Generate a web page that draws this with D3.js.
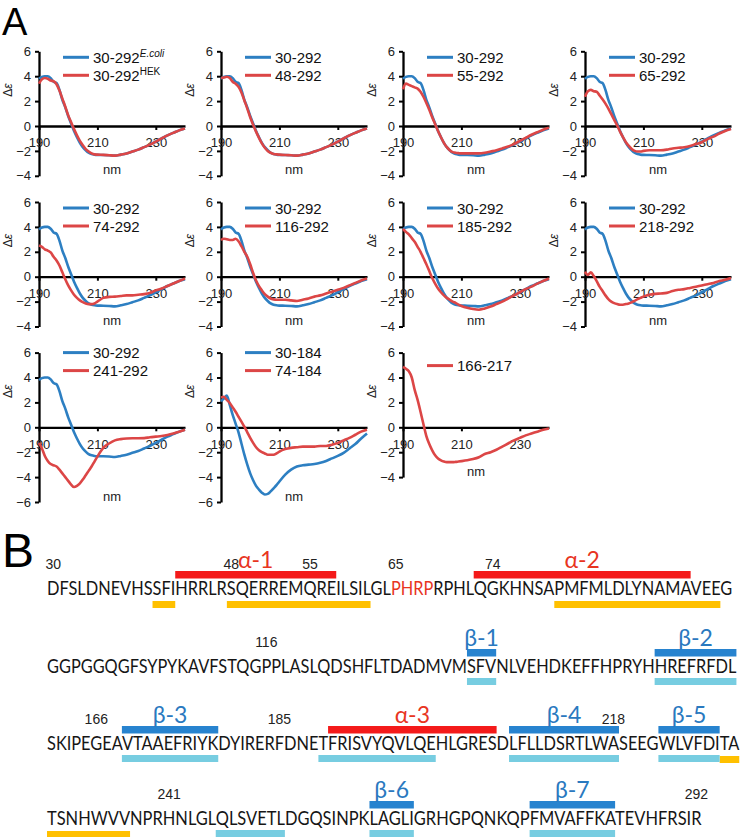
<!DOCTYPE html>
<html><head><meta charset="utf-8">
<script src="https://cdn.jsdelivr.net/npm/d3@7"></script>
<style>body{margin:0;background:#fff}svg{display:block}</style>
</head><body>
<svg id="c" width="745" height="837"></svg>
<script>
// ---------- DATA: CD spectra (Δε vs nm) ----------
const wavelengths = [190,191,192,193,194,195,196,197,198,199,200,201,202,203,204,205,206,207,208,209,210,212,214,216,218,220,222,224,226,228,230,232,234,236,238,240];
const cd_30_292_ecoli = [3.8,3.95,4.0,4.0,3.85,3.55,3.45,2.9,2.1,1.5,0.8,0.2,-0.4,-0.9,-1.35,-1.7,-1.95,-2.15,-2.25,-2.3,-2.32,-2.33,-2.35,-2.38,-2.3,-2.2,-2.05,-1.9,-1.7,-1.5,-1.25,-1.0,-0.75,-0.55,-0.35,-0.2];
const cd_30_292_hek = [3.4,3.75,3.85,3.8,3.65,3.6,3.35,2.85,2.2,1.55,0.85,0.3,-0.25,-0.75,-1.2,-1.55,-1.85,-2.05,-2.2,-2.28,-2.3,-2.32,-2.35,-2.38,-2.3,-2.2,-2.05,-1.9,-1.7,-1.5,-1.25,-1.0,-0.75,-0.55,-0.35,-0.2];
const cd_48_292 = [3.85,3.9,3.95,3.85,3.55,3.4,3.15,2.7,2.05,1.4,0.7,0.1,-0.45,-0.95,-1.4,-1.75,-2.0,-2.15,-2.25,-2.28,-2.3,-2.33,-2.35,-2.38,-2.3,-2.2,-2.05,-1.9,-1.7,-1.5,-1.25,-1.0,-0.75,-0.55,-0.35,-0.2];
const cd_55_292 = [2.95,3.4,3.3,3.2,3.1,3.0,2.75,2.35,1.85,1.3,0.7,0.15,-0.4,-0.9,-1.35,-1.7,-1.95,-2.1,-2.15,-2.18,-2.2,-2.2,-2.2,-2.2,-2.15,-2.05,-1.95,-1.8,-1.65,-1.45,-1.2,-0.95,-0.7,-0.5,-0.3,-0.15];
const cd_65_292 = [2.35,2.8,2.9,2.8,2.75,2.45,2.15,1.8,1.4,0.95,0.5,0.05,-0.45,-0.9,-1.3,-1.6,-1.85,-2.0,-2.05,-2.05,-2.0,-1.95,-1.95,-1.95,-1.9,-1.8,-1.75,-1.7,-1.6,-1.45,-1.3,-1.05,-0.85,-0.6,-0.4,-0.25];
const cd_74_292 = [2.5,2.4,2.2,2.1,1.95,1.6,1.3,0.9,0.35,-0.2,-0.7,-1.1,-1.45,-1.7,-1.9,-2.05,-2.15,-2.2,-2.2,-2.15,-2.0,-1.7,-1.62,-1.6,-1.55,-1.5,-1.5,-1.45,-1.4,-1.3,-1.1,-0.95,-0.75,-0.55,-0.35,-0.15];
const cd_116_292 = [2.95,3.05,3.0,2.95,2.95,3.05,2.85,2.45,2.0,1.6,1.0,0.3,-0.3,-0.75,-1.1,-1.4,-1.6,-1.75,-1.82,-1.85,-1.85,-1.85,-1.9,-1.95,-1.85,-1.75,-1.6,-1.5,-1.35,-1.2,-1.05,-0.9,-0.7,-0.5,-0.3,-0.15];
const cd_185_292 = [3.85,3.6,3.4,3.1,2.8,2.4,2.0,1.5,1.0,0.45,-0.1,-0.55,-0.95,-1.25,-1.5,-1.7,-1.85,-2.0,-2.1,-2.25,-2.35,-2.5,-2.6,-2.65,-2.55,-2.4,-2.2,-2.0,-1.75,-1.5,-1.25,-1.0,-0.8,-0.55,-0.35,-0.15];
const cd_218_292 = [0.4,0.15,0.35,0.05,-0.35,-0.8,-1.15,-1.5,-1.8,-2.0,-2.12,-2.2,-2.25,-2.25,-2.2,-2.15,-2.05,-1.95,-1.8,-1.7,-1.6,-1.45,-1.38,-1.35,-1.3,-1.15,-1.05,-1.0,-0.9,-0.8,-0.7,-0.6,-0.5,-0.35,-0.25,-0.1];
const cd_241_292 = [-1.25,-1.7,-2.3,-2.7,-2.95,-3.05,-3.15,-3.4,-3.7,-4.0,-4.3,-4.6,-4.8,-4.7,-4.5,-4.2,-3.85,-3.5,-3.15,-2.75,-2.35,-1.65,-1.3,-1.05,-0.95,-0.9,-0.88,-0.88,-0.87,-0.8,-0.75,-0.7,-0.62,-0.5,-0.35,-0.2];
const cd_30_184 = [2.1,2.3,2.55,1.8,1.0,0.3,-0.4,-1.3,-2.2,-3.0,-3.7,-4.25,-4.7,-5.0,-5.25,-5.4,-5.35,-5.15,-4.9,-4.65,-4.35,-3.8,-3.4,-3.15,-3.05,-3.0,-2.95,-2.85,-2.7,-2.5,-2.3,-2.05,-1.7,-1.35,-0.9,-0.5];
const cd_74_184 = [2.4,2.45,2.2,1.95,1.6,1.25,0.85,0.45,0.05,-0.4,-0.85,-1.25,-1.6,-1.85,-2.0,-2.1,-2.2,-2.2,-2.2,-2.1,-1.95,-1.75,-1.65,-1.6,-1.55,-1.55,-1.55,-1.5,-1.5,-1.4,-1.25,-1.05,-0.85,-0.6,-0.35,-0.2];
const cd_166_217 = [4.85,4.7,4.5,4.0,3.0,2.2,1.25,0.25,-0.7,-1.35,-1.85,-2.25,-2.5,-2.65,-2.75,-2.8,-2.8,-2.8,-2.78,-2.75,-2.72,-2.65,-2.55,-2.4,-2.15,-2.0,-1.8,-1.55,-1.3,-1.05,-0.85,-0.65,-0.5,-0.35,-0.2,-0.1];

const xTicks = [190,210,230];
const yTicksStd = [-4,-2,0,2,4,6];
const yTicksDeep = [-6,-4,-2,0,2,4,6];

// ---------- DATA: sequence (panel B) ----------
const seqStarts = [30,96,161,231];
const seqLines = [
  "DFSLDNEVHSSFIHRRLRSQERREMQREILSILGLPHRPRPHLQGKHNSAPMFMLDLYNAMAVEEG",
  "GGPGGQGFSYPYKAVFSTQGPPLASLQDSHFLTDADMVMSFVNLVEHDKEFFHPRYHHREFRFDL",
  "SKIPEGEAVTAAEFRIYKDYIRERFDNETFRISVYQVLQEHLGRESDLFLLDSRTLWASEEGWLVFDITA",
  "TSNHWVVNPRHNLGLQLSVETLDGQSINPKLAGLIGRHGPQNKQPFMVAFFKATEVHFRSIR"
];
const numberLabels = [30,48,55,65,74,116,166,185,218,241,292];
const redResidues = [65,68];
const helixNames = ["α-1","α-2","α-3"];
const helixRanges = [[43,57],[73,91],[190,206]];
const strandNames = ["β-1","β-2","β-3","β-4","β-5","β-6","β-7"];
const strandRanges = [[135,137],[153,160],[169,178],[208,218],[223,228],[261,265],[276,283]];
const orangeRanges = [[40,42],[48,62],[80,94],[229,237]];
const lightBlueRanges = [[135,137],[153,160],[169,178],[189,200],[208,218],[223,228],[246,252],[261,265],[276,283]];

// ---------- COLORS ----------
const BLUE = "#2d7fc2", RED = "#dc4646";
const BAR_RED = "#f41a1a", BAR_ORANGE = "#ffc000", BAR_DBLUE = "#2783cf", BAR_LBLUE = "#77cde1";
const TXT_ALPHA = "#e8351f", TXT_BETA = "#2a79bf";

const ref = {name:"30-292", values:cd_30_292_ecoli, color:BLUE};
const red = (name, values) => ({name, values, color:RED});
const panels = [
  {entries:[{name:"30-292", sup:"E.coli", supItalic:true, values:cd_30_292_ecoli, color:BLUE},
            {name:"30-292", sup:"HEK", supItalic:false, values:cd_30_292_hek, color:RED}], ticks:yTicksStd},
  {entries:[ref, red("48-292", cd_48_292)], ticks:yTicksStd},
  {entries:[ref, red("55-292", cd_55_292)], ticks:yTicksStd},
  {entries:[ref, red("65-292", cd_65_292)], ticks:yTicksStd},
  {entries:[ref, red("74-292", cd_74_292)], ticks:yTicksStd},
  {entries:[ref, red("116-292", cd_116_292)], ticks:yTicksStd},
  {entries:[ref, red("185-292", cd_185_292)], ticks:yTicksStd},
  {entries:[ref, red("218-292", cd_218_292)], ticks:yTicksStd},
  {entries:[ref, red("241-292", cd_241_292)], ticks:yTicksDeep},
  {entries:[{name:"30-184", values:cd_30_184, color:BLUE}, red("74-184", cd_74_184)], ticks:yTicksDeep},
  {entries:[red("166-217", cd_166_217)], ticks:yTicksStd}
];

// ---------- LAYOUT ----------
const svg = d3.select("#c");
const AX = "Liberation Sans, Arial, sans-serif";
const colX = [39, 221, 403, 585];
const rowY0 = [126, 276.7, 427.3];
const legendOff = [6, 6, 0];
const K = 12.45, PW = 146;

svg.append("text").attr("x",2).attr("y",35).attr("font-family",AX).attr("font-size",38).text("A");
svg.append("text").attr("x",2).attr("y",567).attr("font-family",AX).attr("font-size",48).text("B");

panels.forEach((p, i) => {
  const col = i % 4, row = Math.floor(i / 4);
  const ax = colX[col], y0 = rowY0[row];
  const yMin = d3.min(p.ticks), yMax = d3.max(p.ticks);
  const x = d3.scaleLinear().domain([190, 240]).range([ax, ax + PW]);
  const y = d3.scaleLinear().domain([yMin, yMax]).range([y0 - yMin * K, y0 - yMax * K]);
  const g = svg.append("g");

  const ya = g.append("g").attr("transform", `translate(${ax},0)`)
    .call(d3.axisLeft(y).tickValues(p.ticks).tickSize(4).tickSizeOuter(0).tickPadding(4).tickFormat(d3.format("d")));
  const xa = g.append("g").attr("transform", `translate(0,${y(0)})`)
    .call(d3.axisBottom(x).tickValues(xTicks).tickSize(4).tickSizeOuter(0).tickPadding(8).tickFormat(d3.format("d")));
  [ya, xa].forEach(a => {
    a.select(".domain").attr("stroke", "#000").attr("stroke-width", 2.3);
    a.selectAll(".tick line").attr("stroke", "#000").attr("stroke-width", 2);
    a.selectAll("text").attr("font-family", AX).attr("font-size", 13).attr("fill", "#222");
  });

  // axis titles
  const yl = g.append("text").attr("transform", `translate(${ax - 27},${y0 - 36}) rotate(-90)`)
    .attr("text-anchor", "middle").attr("font-family", AX).attr("font-size", 12).attr("fill", "#222");
  yl.append("tspan").text("Δ");
  yl.append("tspan").attr("font-style", "italic").text("ε");
  g.append("text").attr("x", x(215)).attr("y", y(yMin) - 1.5).attr("text-anchor", "middle")
    .attr("font-family", AX).attr("font-size", 13).attr("fill", "#222").text("nm");

  // curves
  const line = d3.line().x((d, j) => x(wavelengths[j])).y(d => y(d)).curve(d3.curveMonotoneX);
  p.entries.forEach(e => {
    g.append("path").attr("d", line(e.values)).attr("fill", "none")
      .attr("stroke", e.color).attr("stroke-width", 2.6).attr("stroke-linejoin", "round");
  });

  // legend
  const top = y(yMax) + (p.entries.length === 1 ? 13 : legendOff[row]);
  p.entries.forEach((e, k) => {
    const ly = top + k * 18;
    g.append("line").attr("x1", ax + 24).attr("x2", ax + 50).attr("y1", ly).attr("y2", ly)
      .attr("stroke", e.color).attr("stroke-width", 3);
    const t = g.append("text").attr("x", ax + 54).attr("y", ly + 5.5)
      .attr("font-family", AX).attr("font-size", 15).attr("fill", "#111");
    t.append("tspan").text(e.name);
    if (e.sup) t.append("tspan").attr("dy", -6).attr("font-size", 10)
      .attr("font-style", e.supItalic ? "italic" : "normal").text(e.sup);
  });
});

// ---------- PANEL B ----------
const SEQF = "Lato, 'Open Sans', sans-serif";
const seqX0 = 47;
const baselines = [595, 673, 750, 825];
const lineWidths = [686, 690, 693, 655];
const lineInfo = [];

seqLines.forEach((s, li) => {
  const start = seqStarts[li];
  const t = svg.append("text").attr("font-family", SEQF).attr("font-size", 19).attr("fill", "#161616");
  let segs = [];
  const rs = redResidues[0], re = redResidues[1];
  const end = start + s.length - 1;
  if (rs >= start && re <= end) {
    segs = [[s.slice(0, rs - start), null], [s.slice(rs - start, re - start + 1), TXT_ALPHA], [s.slice(re - start + 1), null]];
  } else segs = [[s, null]];
  segs.forEach(([txt, c]) => { const ts = t.append("tspan").text(txt); if (c) ts.attr("fill", c); });
  const w = t.node().getComputedTextLength();
  const sx = lineWidths[li] / w;
  t.attr("transform", `translate(${seqX0},${baselines[li]}) scale(${sx},1)`);
  const node = t.node();
  const pos = [];
  for (let i = 0; i < s.length; i++) {
    pos.push([seqX0 + node.getStartPositionOfChar(i).x * sx, seqX0 + node.getEndPositionOfChar(i).x * sx]);
  }
  lineInfo.push({start, end, pos, b: baselines[li]});
});

function locate(r) {
  const L = lineInfo.find(l => r >= l.start && r <= l.end);
  return {L, p: L.pos[r - L.start]};
}
function segments(a, b) {
  const out = [];
  lineInfo.forEach(L => {
    const s = Math.max(a, L.start), e = Math.min(b, L.end);
    if (s <= e) out.push({L, x1: L.pos[s - L.start][0], x2: L.pos[e - L.start][1]});
  });
  return out;
}
function bars(ranges, color, dyTop, h) {
  ranges.forEach(([a, b]) => segments(a, b).forEach(sg => {
    svg.append("rect").attr("x", sg.x1).attr("y", sg.L.b + dyTop).attr("width", sg.x2 - sg.x1)
      .attr("height", h).attr("fill", color);
  }));
}
bars(orangeRanges, BAR_ORANGE, 6, 7);
bars(lightBlueRanges, BAR_LBLUE, 5, 7);
bars(helixRanges, BAR_RED, -24, 7.5);
bars(strandRanges, BAR_DBLUE, -24, 7.5);

function structLabels(names, ranges, color) {
  names.forEach((n, i) => {
    const sg = segments(ranges[i][0], ranges[i][1])[0];
    svg.append("text").attr("x", (sg.x1 + sg.x2) / 2).attr("y", sg.L.b - 27).attr("text-anchor", "middle")
      .attr("font-family", SEQF).attr("font-size", 23).attr("fill", color).text(n);
  });
}
structLabels(helixNames, helixRanges, TXT_ALPHA);
structLabels(strandNames, strandRanges, TXT_BETA);

numberLabels.forEach(n => {
  const {L, p} = locate(n);
  svg.append("text").attr("x", (p[0] + p[1]) / 2).attr("y", L.b - 26).attr("text-anchor", "middle")
    .attr("font-family", AX).attr("font-size", 14).attr("fill", "#222").text(n);
});
</script>
</body></html>
